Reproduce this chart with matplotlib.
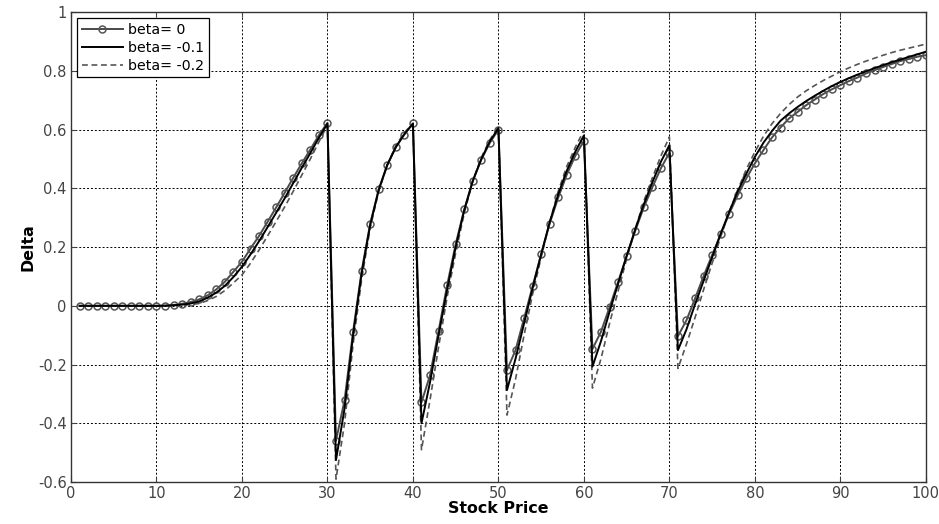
import matplotlib
matplotlib.use('Agg')
import matplotlib.pyplot as plt
import numpy as np

plt.rcParams['font.family'] = ['DejaVu Sans']

stock_price = list(range(1, 101))

delta_beta0 = [0, 0, 0, 0, 0, 0, 0, 0, 0, 0,
               0.001, 0.003, 0.007, 0.013, 0.022, 0.036, 0.056, 0.082, 0.116, 0.150,
               0.195, 0.238, 0.286, 0.335, 0.385, 0.436, 0.485, 0.532, 0.581, 0.623,
               -0.459, -0.321, -0.088, 0.119, 0.280, 0.396, 0.479, 0.541, 0.583, 0.621,
               -0.329, -0.236, -0.085, 0.070, 0.210, 0.328, 0.425, 0.498, 0.555, 0.600,
               -0.219, -0.151, -0.043, 0.067, 0.176, 0.280, 0.369, 0.447, 0.511, 0.562,
               -0.147, -0.088, -0.005, 0.082, 0.169, 0.255, 0.335, 0.403, 0.468, 0.521,
               -0.103, -0.049, 0.025, 0.101, 0.173, 0.244, 0.314, 0.377, 0.434, 0.485,
               0.530, 0.573, 0.607, 0.638, 0.660, 0.683, 0.702, 0.721, 0.737, 0.751,
               0.765, 0.777, 0.791, 0.802, 0.813, 0.823, 0.833, 0.840, 0.848, 0.853]

delta_beta01 = [0, 0, 0, 0, 0, 0, 0, 0, 0, 0,
                0.0, 0.002, 0.004, 0.008, 0.015, 0.028, 0.045, 0.068, 0.098, 0.133,
                0.175, 0.220, 0.268, 0.317, 0.366, 0.418, 0.470, 0.520, 0.572, 0.620,
                -0.525, -0.350, -0.100, 0.110, 0.275, 0.395, 0.480, 0.540, 0.585, 0.620,
                -0.400, -0.260, -0.100, 0.055, 0.200, 0.325, 0.425, 0.500, 0.560, 0.605,
                -0.287, -0.180, -0.060, 0.060, 0.175, 0.285, 0.380, 0.460, 0.525, 0.580,
                -0.207, -0.120, -0.020, 0.075, 0.170, 0.260, 0.345, 0.420, 0.490, 0.547,
                -0.151, -0.080, 0.005, 0.085, 0.165, 0.245, 0.320, 0.390, 0.450, 0.507,
                0.555, 0.595, 0.630, 0.655, 0.677, 0.697, 0.715, 0.732, 0.748, 0.762,
                0.775, 0.787, 0.798, 0.809, 0.819, 0.829, 0.838, 0.847, 0.856, 0.865]

delta_beta02 = [0, 0, 0, 0, 0, 0, 0, 0, 0, 0,
                0.0, 0.001, 0.002, 0.004, 0.008, 0.018, 0.032, 0.052, 0.078, 0.105,
                0.145, 0.190, 0.238, 0.287, 0.337, 0.390, 0.445, 0.500, 0.558, 0.615,
                -0.590, -0.400, -0.130, 0.090, 0.265, 0.390, 0.480, 0.545, 0.590, 0.620,
                -0.490, -0.320, -0.140, 0.030, 0.180, 0.315, 0.425, 0.505, 0.565, 0.610,
                -0.372, -0.250, -0.100, 0.040, 0.165, 0.285, 0.390, 0.475, 0.540, 0.598,
                -0.280, -0.180, -0.060, 0.050, 0.160, 0.260, 0.355, 0.435, 0.510, 0.575,
                -0.213, -0.130, -0.040, 0.055, 0.145, 0.235, 0.320, 0.395, 0.465, 0.524,
                0.577, 0.620, 0.655, 0.685, 0.711, 0.732, 0.750, 0.767, 0.782, 0.797,
                0.810, 0.822, 0.833, 0.843, 0.853, 0.862, 0.870, 0.877, 0.884, 0.891]

legends = ['beta= 0', 'beta= -0.1', 'beta= -0.2']

fig = plt.figure(figsize=(9.39, 5.24), dpi=100)
ax = fig.add_axes([0.0756, 0.080, 0.9104, 0.897])

ax.plot(stock_price, delta_beta0, color='#4a4a4a', linewidth=1.4, marker='o',
        markersize=5, markerfacecolor='none', markeredgecolor='#555555',
        markeredgewidth=1.1, label=legends[0], zorder=3)
ax.plot(stock_price, delta_beta01, color='black', linewidth=1.4, label=legends[1], zorder=4)
ax.plot(stock_price, delta_beta02, color='#555555', linewidth=1.2, linestyle=(0, (3.5, 2.2)),
        label=legends[2], zorder=2)

ax.set_xlim(0, 100)
ax.set_ylim(-0.6, 1)
ax.set_xticks(np.arange(0, 101, 10))
ax.set_yticks(np.arange(-0.6, 1.01, 0.2))
ax.set_yticklabels(['-0.6', '-0.4', '-0.2', '0', '0.2', '0.4', '0.6', '0.8', '1'])

ax.grid(True, color='black', linestyle=(0, (2, 2)), linewidth=0.7)
ax.tick_params(direction='in', top=True, right=True, labelsize=10.5, colors='#444444', pad=3)
for sp in ax.spines.values():
    sp.set_color('#333333')
    sp.set_linewidth(1.0)

ax.set_xlabel('Stock Price', fontsize=11.4, fontweight='bold', labelpad=0)
ax.set_ylabel('Delta', fontsize=11.4, fontweight='bold', labelpad=2)

leg = ax.legend(loc='upper left', fontsize=10.2, fancybox=False, framealpha=1,
                edgecolor='black', borderaxespad=0.45, handlelength=2.9,
                handletextpad=0.4, labelspacing=0.3, borderpad=0.3)
leg.get_frame().set_linewidth(0.9)

plt.savefig('out.png', dpi=100)
